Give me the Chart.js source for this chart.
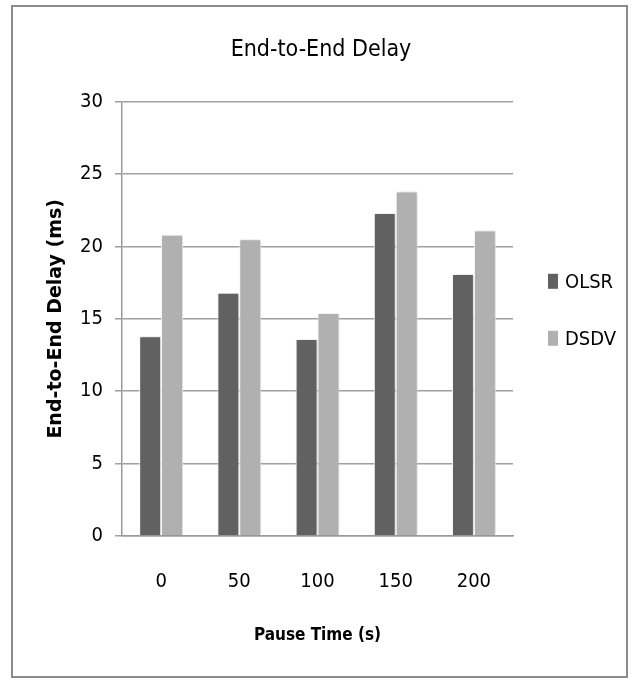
<!DOCTYPE html>
<html>
<head>
<meta charset="utf-8">
<script src="https://cdn.jsdelivr.net/npm/chart.js@4.4.1/dist/chart.umd.min.js"></script>
<style>
  html, body { margin: 0; padding: 0; background: #fff; }
  #wrap { position: relative; width: 632px; height: 680px; }
  #frame { position: absolute; left: 11px; top: 5px; width: 613px; height: 669px; border: 2px solid #8c8c8c; pointer-events: none; }
  canvas { position: absolute; left: 0; top: 0; }
</style>
</head>
<body>
<div id="wrap">
  <canvas id="c" width="632" height="680"></canvas>
  <div id="frame"></div>
</div>
<script>
// Pause time categories (seconds)
const pauseTimes = ['0', '50', '100', '150', '200'];
// End-to-end delay per protocol (ms)
const olsrDelay = [13.8, 16.8, 13.6, 22.3, 18.1];
const dsdvDelay = [20.8, 20.5, 15.4, 23.8, 21.1];
const yTicks = [0, 5, 10, 15, 20, 25, 30];

const NARROW = "'Liberation Sans Narrow', 'DejaVu Sans Condensed', sans-serif";

// soft drop shadow under the bars
const barShadow = {
  id: 'barShadow',
  beforeDatasetsDraw(chart) {
    const ctx = chart.ctx;
    ctx.save();
    ctx.shadowColor = 'rgba(0,0,0,0.22)';
    ctx.shadowBlur = 3;
    ctx.shadowOffsetX = 1;
    ctx.shadowOffsetY = 0;
  },
  afterDatasetsDraw(chart) {
    chart.ctx.restore();
  }
};

// series key to the right of the plot, one row per dataset
const sideLegend = {
  id: 'sideLegend',
  afterDraw(chart) {
    const { ctx, chartArea } = chart;
    const sets = chart.data.datasets;
    const rowGap = 57;
    const x = chartArea.right + 35;
    const midY = (chartArea.top + chartArea.bottom) / 2 - 9;
    const y0 = midY - rowGap * (sets.length - 1) / 2;
    ctx.save();
    ctx.font = "20px " + NARROW;
    ctx.textBaseline = 'middle';
    ctx.textAlign = 'left';
    sets.forEach((ds, i) => {
      const cy = y0 + i * rowGap;
      ctx.fillStyle = ds.backgroundColor;
      ctx.fillRect(x, cy - 7.5, 10, 15);
      ctx.fillStyle = '#000';
      ctx.fillText(ds.label, x + 17, cy + 1);
    });
    ctx.restore();
  }
};

new Chart(document.getElementById('c'), {
  type: 'bar',
  data: {
    labels: pauseTimes,
    datasets: [
      { label: 'OLSR', data: olsrDelay, backgroundColor: '#616161', borderColor: '#ffffff', borderWidth: 1 },
      { label: 'DSDV', data: dsdvDelay, backgroundColor: '#b0b0b0', borderColor: '#ffffff', borderWidth: 1 }
    ]
  },
  options: {
    responsive: false,
    animation: false,
    layout: { padding: { left: 10, right: 0, top: 20, bottom: 10 } },
    datasets: { bar: { categoryPercentage: 0.56, barPercentage: 1.0 } },
    plugins: {
      title: {
        display: true,
        text: 'End-to-End Delay',
        color: '#000',
        font: { family: NARROW, size: 23, weight: 'normal' },
        padding: { top: 16, bottom: 38 }
      },
      legend: { display: false },
      tooltip: { enabled: false }
    },
    scales: {
      x: {
        grid: { display: false },
        border: { display: true, color: '#9a9a9a', width: 1.5 },
        ticks: { color: '#000', font: { family: NARROW, size: 20 }, padding: 26 },
        afterFit(scale) { scale.height = 134; },
        title: {
          display: true,
          text: 'Pause Time (s)',
          color: '#000',
          font: { family: NARROW, size: 17, weight: 'bold' },
          padding: { top: 0, bottom: 24 }
        }
      },
      y: {
        min: 0,
        max: 30,
        afterBuildTicks(scale) { scale.ticks = yTicks.map(v => ({ value: v })); },
        afterFit(scale) { scale.width = 112; },
        grid: { color: '#a0a0a0', lineWidth: 1.5, tickLength: 7, drawTicks: true },
        border: { display: true, color: '#9a9a9a', width: 1.5 },
        ticks: { color: '#000', font: { family: NARROW, size: 20 }, padding: 12 },
        title: {
          display: true,
          text: 'End-to-End Delay (ms)',
          color: '#000',
          font: { family: "'DejaVu Sans', sans-serif", size: 19, weight: 'bold' },
          padding: { top: 35, bottom: 0 }
        }
      },
      // empty strip on the right that holds the series key
      keyStrip: {
        type: 'linear',
        position: 'right',
        min: 0,
        max: 30,
        afterFit(scale) { scale.width = 119; },
        grid: { display: false, drawOnChartArea: false },
        border: { display: false },
        ticks: { display: false }
      }
    }
  },
  plugins: [barShadow, sideLegend]
});
</script>
</body>
</html>
